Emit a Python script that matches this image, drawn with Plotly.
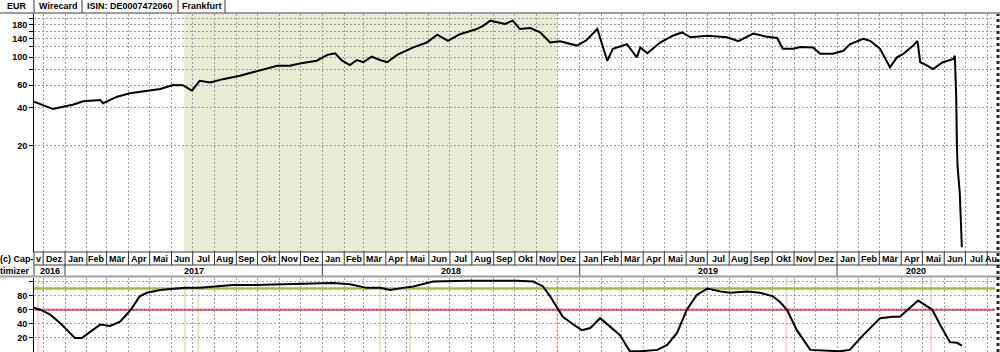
import pandas as pd
import plotly.graph_objects as go

# ---------------- data ----------------
price_dates = [
    "2016-11-18", "2016-12-01", "2016-12-15", "2016-12-29", "2017-01-12", "2017-01-27",
    "2017-02-20", "2017-02-24", "2017-03-16", "2017-04-03", "2017-04-27", "2017-05-16",
    "2017-06-03", "2017-06-17", "2017-06-30", "2017-07-11", "2017-07-26", "2017-08-13",
    "2017-09-06", "2017-09-30", "2017-10-19", "2017-10-29", "2017-11-16", "2017-11-30",
    "2017-12-24", "2018-01-08", "2018-01-19", "2018-01-29", "2018-02-09", "2018-02-19",
    "2018-02-28", "2018-03-12", "2018-03-24", "2018-04-03", "2018-04-17", "2018-05-10",
    "2018-05-29", "2018-06-13", "2018-06-28", "2018-07-15", "2018-08-08", "2018-08-17",
    "2018-08-27", "2018-09-10", "2018-09-17", "2018-09-28", "2018-10-08", "2018-10-23",
    "2018-11-06", "2018-11-20", "2018-12-04", "2018-12-28", "2019-01-11", "2019-01-26",
    "2019-02-02", "2019-02-09", "2019-02-17", "2019-03-09", "2019-03-23", "2019-03-28",
    "2019-04-07", "2019-04-25", "2019-05-13", "2019-05-26", "2019-06-07", "2019-07-01",
    "2019-07-29", "2019-08-14", "2019-09-04", "2019-09-24", "2019-10-08", "2019-10-16",
    "2019-10-31", "2019-11-10", "2019-11-28", "2019-12-08", "2019-12-26", "2020-01-10",
    "2020-01-19", "2020-02-07", "2020-02-17", "2020-03-02", "2020-03-16", "2020-03-26",
    "2020-04-04", "2020-04-18", "2020-04-24", "2020-04-28", "2020-05-08", "2020-05-16",
    "2020-05-30", "2020-06-14", "2020-06-16", "2020-06-18", "2020-06-19", "2020-06-20",
    "2020-06-23", "2020-06-25", "2020-06-26",
]
price_values = [
    44.5, 41.5, 39.0, 40.7, 42.2, 44.9,
    46.0, 43.3, 48.8, 51.9, 53.8, 56.0,
    60.2, 60.0, 54.4, 65.0, 63.2, 67.0,
    71.3, 77.2, 83.0, 85.5, 85.5, 89.0,
    93.5, 104.0, 107.0, 93.5, 86.5, 94.7,
    91.0, 100.5, 94.7, 91.0, 104.0, 119.0,
    130.0, 150.0, 134.0, 151.0, 166.0, 176.0,
    193.0, 186.0, 182.0, 193.0, 166.0, 169.0,
    156.0, 130.0, 133.0, 123.0, 136.0, 166.0,
    126.0, 93.5, 116.0, 126.0, 99.5, 119.0,
    107.0, 130.0, 147.0, 156.0, 143.0, 147.0,
    143.0, 133.0, 153.0, 144.0, 141.0, 116.0,
    116.0, 120.0, 119.0, 106.0, 106.0, 112.0,
    126.0, 139.0, 134.0, 116.0, 83.0, 99.5,
    106.0, 123.0, 134.0, 91.0, 85.5, 80.5,
    91.0, 96.5, 102.4, 48.5, 19.6, 13.6,
    8.6, 4.4, 3.2,
]

indicator_dates = [
    "2016-11-18", "2016-11-27", "2016-12-11", "2016-12-25", "2017-01-04", "2017-01-15",
    "2017-01-25", "2017-02-05", "2017-02-20", "2017-03-06", "2017-03-20", "2017-03-31",
    "2017-04-07", "2017-04-17", "2017-04-27", "2017-05-16", "2017-06-03", "2017-06-20",
    "2017-07-11", "2017-08-05", "2017-08-27", "2017-09-20", "2017-11-30", "2018-01-16",
    "2018-02-09", "2018-03-05", "2018-03-24", "2018-04-07", "2018-04-25", "2018-05-10",
    "2018-06-07", "2018-07-25", "2018-10-04", "2018-10-27", "2018-11-10", "2018-11-20",
    "2018-11-30", "2018-12-08", "2018-12-23", "2019-01-04", "2019-01-16", "2019-01-30",
    "2019-02-13", "2019-02-27", "2019-03-13", "2019-03-28", "2019-04-21", "2019-05-05",
    "2019-05-19", "2019-06-02", "2019-06-16", "2019-07-01", "2019-07-19", "2019-08-02",
    "2019-08-26", "2019-09-14", "2019-10-02", "2019-10-12", "2019-10-22", "2019-11-05",
    "2019-11-24", "2020-01-05", "2020-01-19", "2020-02-07", "2020-03-02", "2020-03-20",
    "2020-03-30", "2020-04-14", "2020-04-25", "2020-05-09", "2020-05-15", "2020-05-26",
    "2020-06-09", "2020-06-19", "2020-06-26",
]
indicator_values = [
    63, 60, 53, 41, 31, 20,
    20, 28, 39, 37, 43, 55,
    64, 79, 84, 88, 90, 91,
    91, 93, 95, 95, 97, 98,
    96, 91, 91, 88, 91, 93,
    100, 101, 101, 100, 93, 79,
    63, 50, 39, 31, 34, 48,
    36, 24, 1, 1, 3, 10,
    27, 60, 81, 90, 86, 84,
    86, 84, 79, 71, 60, 31,
    3, 1, 3, 24, 48, 50,
    50, 63, 73, 64, 60, 39,
    14, 13, 9,
]

header_labels = ["EUR", "Wirecard", "ISIN: DE0007472060", "Frankfurt"]
month_names = ["Jan", "Feb", "Mär", "Apr", "Mai", "Jun", "Jul", "Aug", "Sep", "Okt", "Nov", "Dez"]
first_partial_label = "v"
last_partial_label = "Au"
corner_label = ["(c) Cap-", "timizer"]

x_start = "2016-11-18"
x_end = "2020-08-12"
shade_start = "2017-06-19"
shade_end = "2018-11-30"
upper_level = 90
lower_level = 60
sell_marks = ["2016-11-24", "2018-11-30", "2019-10-21", "2020-05-13"]
buy_marks = ["2017-06-20", "2017-07-09", "2018-03-24", "2018-05-05"]

price_ticks = [20, 40, 60, 80, 100, 120, 140, 160, 180, 200]
price_tick_text = ["20", "40", "60", "", "100", "", "140", "", "180", ""]
ind_ticks = [0, 20, 40, 60, 80, 100]
ind_tick_text = ["", "20", "40", "60", "80", ""]

# ---------------- layout geometry (pixels) ----------------
W, H = 1000, 352
L, R = 34, 5
PW = W - L - R


def px_x(px):
    return (px - L) / PW


def px_y(py):
    return (H - py) / H


FONT = "Liberation Sans, Arial, sans-serif"
bold9 = dict(family=FONT, size=9, color="black", weight="bold")
GRID = "#9a9a9a"
EDGE = "#3a3a3a"

fig = go.Figure()
fig.add_trace(go.Scatter(x=price_dates, y=price_values, mode="lines",
                         line=dict(color="black", width=2), xaxis="x", yaxis="y",
                         hoverinfo="skip", showlegend=False))
fig.add_trace(go.Scatter(x=indicator_dates, y=indicator_values, mode="lines",
                         line=dict(color="black", width=2), xaxis="x2", yaxis="y2",
                         hoverinfo="skip", showlegend=False))

top_dom = [px_y(252), px_y(14)]
bot_dom = [0, px_y(278)]

xcommon = dict(type="date", range=[x_start, x_end], showgrid=True, gridcolor=GRID,
               griddash="2px,2px", gridwidth=1, dtick="M1", tick0="2016-12-01",
               showticklabels=False, ticks="", showline=False, zeroline=False)
fig.update_layout(
    width=W, height=H, margin=dict(l=L, r=R, t=0, b=0),
    paper_bgcolor="white", plot_bgcolor="white",
    xaxis=dict(domain=[0, 1], anchor="y", **xcommon),
    xaxis2=dict(domain=[0, 1], anchor="y2", matches="x", **xcommon),
    yaxis=dict(domain=top_dom, type="log", range=[0.468, 2.338], tickvals=price_ticks,
               ticktext=price_tick_text, ticks="outside", ticklen=4, tickcolor="black",
               showline=True, linecolor="black", linewidth=1, showgrid=True,
               gridcolor=GRID, griddash="2px,2px", tickfont=bold9, zeroline=False),
    yaxis2=dict(domain=bot_dom, range=[0, 105], tickvals=ind_ticks, ticktext=ind_tick_text,
                ticks="outside", ticklen=4, tickcolor="black", showline=True,
                linecolor="black", linewidth=1, showgrid=True, gridcolor=GRID,
                griddash="2px,2px", tickfont=bold9, zeroline=False),
)

shapes = []
annotations = []

# shaded signal period
shapes.append(dict(type="rect", xref="x", yref="paper", x0=shade_start, x1=shade_end,
                   y0=top_dom[0], y1=top_dom[1], fillcolor="#e7edd5", line_width=0,
                   layer="below"))
# signal markers in indicator panel
for d in sell_marks:
    shapes.append(dict(type="line", xref="x2", yref="paper", x0=d, x1=d, y0=bot_dom[0],
                       y1=bot_dom[1], line=dict(color="#f6d9cc", width=2), layer="below"))
for d in buy_marks:
    shapes.append(dict(type="line", xref="x2", yref="paper", x0=d, x1=d, y0=bot_dom[0],
                       y1=bot_dom[1], line=dict(color="#dde7c6", width=2), layer="below"))
# threshold lines
shapes.append(dict(type="line", xref="paper", yref="y2", x0=0, x1=1, y0=upper_level,
                   y1=upper_level, line=dict(color="#9bbb4f", width=2.5), layer="below"))
shapes.append(dict(type="line", xref="paper", yref="y2", x0=0, x1=1, y0=lower_level,
                   y1=lower_level, line=dict(color="#c2434f", width=2), layer="below"))

# header row
header_edges = [0, 34, 82, 178, 225]
for i, lab in enumerate(header_labels):
    x0, x1 = header_edges[i], header_edges[i + 1]
    annotations.append(dict(text=lab, xref="paper", yref="paper", x=px_x((x0 + x1) / 2),
                            y=px_y(6.5), showarrow=False, font=bold9,
                            xanchor="center", yanchor="middle"))
    shapes.append(dict(type="line", xref="paper", yref="paper", x0=px_x(x1), x1=px_x(x1),
                       y0=px_y(0), y1=px_y(13), line=dict(color=EDGE, width=1)))
shapes.append(dict(type="line", xref="paper", yref="paper", x0=px_x(0), x1=px_x(W),
                   y0=px_y(13), y1=px_y(13), line=dict(color=EDGE, width=1)))

# month / year rows
row_m = (px_y(252), px_y(265))
row_y = (px_y(265), px_y(277))
xs = pd.Timestamp(x_start)
xe = pd.Timestamp(x_end)
month_starts = pd.date_range("2016-11-01", "2020-08-01", freq="MS")
for i, ms in enumerate(month_starts):
    me = ms + pd.offsets.MonthBegin(1)
    a, b = max(ms, xs), min(me, xe)
    mid = a + (b - a) / 2
    if i == 0:
        lab = first_partial_label
    elif i == len(month_starts) - 1:
        lab = last_partial_label
    else:
        lab = month_names[ms.month - 1]
    annotations.append(dict(text=lab, xref="x", yref="paper", x=mid,
                            y=(row_m[0] + row_m[1]) / 2, showarrow=False, font=bold9,
                            xanchor="center", yanchor="middle"))
    if ms > xs:
        shapes.append(dict(type="line", xref="x", yref="paper", x0=ms, x1=ms,
                           y0=row_m[0], y1=row_m[1], line=dict(color=EDGE, width=1)))

for yr in range(2016, 2021):
    ys, ye = pd.Timestamp(f"{yr}-01-01"), pd.Timestamp(f"{yr + 1}-01-01")
    a, b = max(ys, xs), min(ye, xe)
    mid = a + (b - a) / 2
    annotations.append(dict(text=str(yr), xref="x", yref="paper", x=mid,
                            y=(row_y[0] + row_y[1]) / 2, showarrow=False, font=bold9,
                            xanchor="center", yanchor="middle"))
    if ys > xs:
        shapes.append(dict(type="line", xref="x", yref="paper", x0=ys, x1=ys,
                           y0=row_y[0], y1=row_y[1], line=dict(color=EDGE, width=1)))

for py in (252, 265):
    shapes.append(dict(type="line", xref="paper", yref="paper", x0=0, x1=px_x(W),
                       y0=px_y(py), y1=px_y(py), line=dict(color=EDGE, width=1)))
shapes.append(dict(type="line", xref="paper", yref="paper", x0=0, x1=0,
                   y0=row_m[0], y1=row_y[1], line=dict(color=EDGE, width=1)))
shapes.append(dict(type="line", xref="paper", yref="paper", x0=px_x(0), x1=px_x(W),
                   y0=px_y(276.5), y1=px_y(276.5), line=dict(color="#a0a0a0", width=2)))

annotations.append(dict(text=corner_label[0], xref="paper", yref="paper", x=px_x(16.5),
                        y=(row_m[0] + row_m[1]) / 2, showarrow=False, font=bold9,
                        xanchor="center", yanchor="middle"))
annotations.append(dict(text=corner_label[1], xref="paper", yref="paper", x=px_x(15),
                        y=(row_y[0] + row_y[1]) / 2, showarrow=False, font=bold9,
                        xanchor="center", yanchor="middle"))

# right-hand splitter
shapes.append(dict(type="line", xref="paper", yref="paper", x0=px_x(998), x1=px_x(998),
                   y0=0, y1=px_y(14), line=dict(color="#222222", width=3, dash="dot")))

fig.update_layout(shapes=shapes, annotations=annotations)
fig.write_html("out.html")
